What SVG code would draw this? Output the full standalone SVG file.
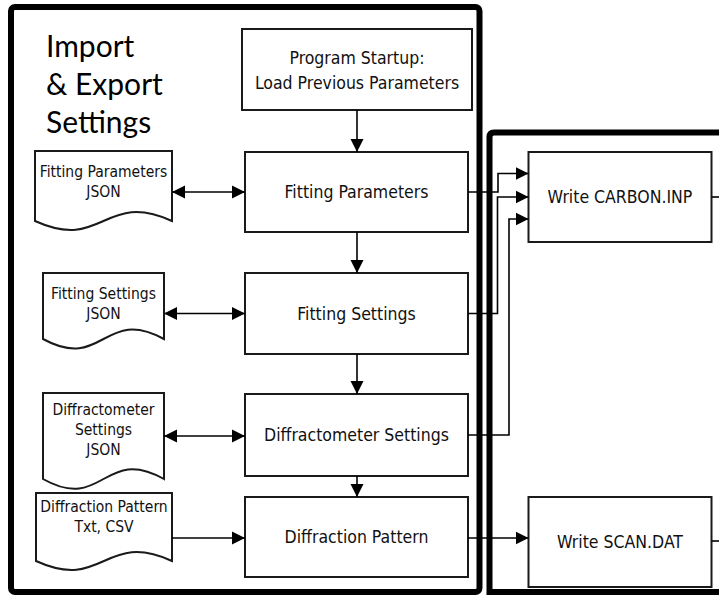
<svg xmlns="http://www.w3.org/2000/svg" width="719" height="598" viewBox="0 0 719 598">
<style>
.frame{fill:none;stroke:#000;stroke-width:6}
.box{fill:#fff;stroke:#1a1a1a;stroke-width:2}
.doc{fill:#fff;stroke:#1a1a1a;stroke-width:2}
.t{font-family:"DejaVu Sans Condensed","DejaVu Sans",sans-serif;font-stretch:condensed;font-size:17.5px;fill:#111;text-anchor:middle;dominant-baseline:central}
.d{font-family:"DejaVu Sans Condensed","DejaVu Sans",sans-serif;font-stretch:condensed;font-size:15.5px;fill:#111;text-anchor:middle;dominant-baseline:central}
.title{font-family:Lato,"Open Sans",sans-serif;font-size:30px;fill:#000}
.c{fill:none;stroke:#000;stroke-width:1.6}
</style>
<defs>
<marker id="ah" markerUnits="userSpaceOnUse" markerWidth="14" markerHeight="14" viewBox="0 0 14 14" refX="13" refY="7" orient="auto-start-reverse">
<path d="M0,0.5 L13,7 L0,13.5 Z" fill="#000"/>
</marker>
</defs>

<g id="frames">
<rect class="frame" x="11" y="7" width="468.5" height="585" rx="4"/>
<path class="frame" d="M489.5,595 V137 Q489.5,132.5 494,132.5 H725 M489.5,592 H725"/>
</g>

<g id="title">
<text class="title" x="46" y="57">Import</text>
<text class="title" x="46" y="95">&amp; Export</text>
<text class="title" x="46" y="133">Settings</text>
</g>

<g id="startup">
<rect class="box" x="242" y="29" width="230" height="81"/>
<text class="t" x="357" y="58">Program Startup:</text>
<text class="t" x="357" y="83">Load Previous Parameters</text>
</g>

<g id="fitting-parameters">
<rect class="box" x="245" y="152" width="223" height="80"/>
<text class="t" x="356.5" y="192">Fitting Parameters</text>
</g>

<g id="fitting-settings">
<rect class="box" x="245" y="273" width="223" height="81"/>
<text class="t" x="356.5" y="313.5">Fitting Settings</text>
</g>

<g id="diffractometer-settings">
<rect class="box" x="245" y="394" width="223" height="82"/>
<text class="t" x="356.5" y="435">Diffractometer Settings</text>
</g>

<g id="diffraction-pattern">
<rect class="box" x="245" y="497" width="223" height="80"/>
<text class="t" x="356.5" y="537">Diffraction Pattern</text>
</g>

<g id="write-carbon">
<rect class="box" x="528.5" y="152" width="183" height="90"/>
<text class="t" x="620" y="197">Write CARBON.INP</text>
</g>

<g id="write-scan">
<rect class="box" x="528.5" y="497" width="183" height="90"/>
<text class="t" x="620" y="542">Write SCAN.DAT</text>
</g>

<g id="doc-fitting-parameters">
<path class="doc" d="M35,151 H172 V221 C103.5,190 103.5,252 35,221 Z"/>
<text class="d" x="103.5" y="171.5">Fitting Parameters</text>
<text class="d" x="103.5" y="191.5">JSON</text>
</g>

<g id="doc-fitting-settings">
<path class="doc" d="M43,273 H164 V339 C103.5,306 103.5,372 43,339 Z"/>
<text class="d" x="103.5" y="293.5">Fitting Settings</text>
<text class="d" x="103.5" y="313.5">JSON</text>
</g>

<g id="doc-diffractometer-settings">
<path class="doc" d="M43,393 H164 V479 C103.5,445 103.5,513 43,479 Z"/>
<text class="d" x="103.5" y="410">Diffractometer</text>
<text class="d" x="103.5" y="430">Settings</text>
<text class="d" x="103.5" y="450">JSON</text>
</g>

<g id="doc-diffraction-pattern">
<path class="doc" d="M36,493 H172 V561 C104,530 104,592 36,561 Z"/>
<text class="d" x="104" y="507">Diffraction Pattern</text>
<text class="d" x="104" y="527">Txt, CSV</text>
</g>

<g id="connectors">
<path class="c" d="M357,110 V152" marker-end="url(#ah)"/>
<path class="c" d="M357,232 V273" marker-end="url(#ah)"/>
<path class="c" d="M357,354 V394" marker-end="url(#ah)"/>
<path class="c" d="M357,476 V497" marker-end="url(#ah)"/>
<path class="c" d="M172,192 H245" marker-start="url(#ah)" marker-end="url(#ah)"/>
<path class="c" d="M164,313.5 H245" marker-start="url(#ah)" marker-end="url(#ah)"/>
<path class="c" d="M164,436 H245" marker-start="url(#ah)" marker-end="url(#ah)"/>
<path class="c" d="M172,538 H245" marker-end="url(#ah)"/>
<path class="c" d="M468,192 H498 V173.5 H528.5" marker-end="url(#ah)"/>
<path class="c" d="M468,313.5 H497.5 V197 H528.5" marker-end="url(#ah)"/>
<path class="c" d="M468,435 H509 V219 H528.5" marker-end="url(#ah)"/>
<path class="c" d="M468,538 H528.5" marker-end="url(#ah)"/>
<path class="c" d="M711.5,197 H719"/>
<path class="c" d="M711.5,541 H719"/>
</g>
</svg>
